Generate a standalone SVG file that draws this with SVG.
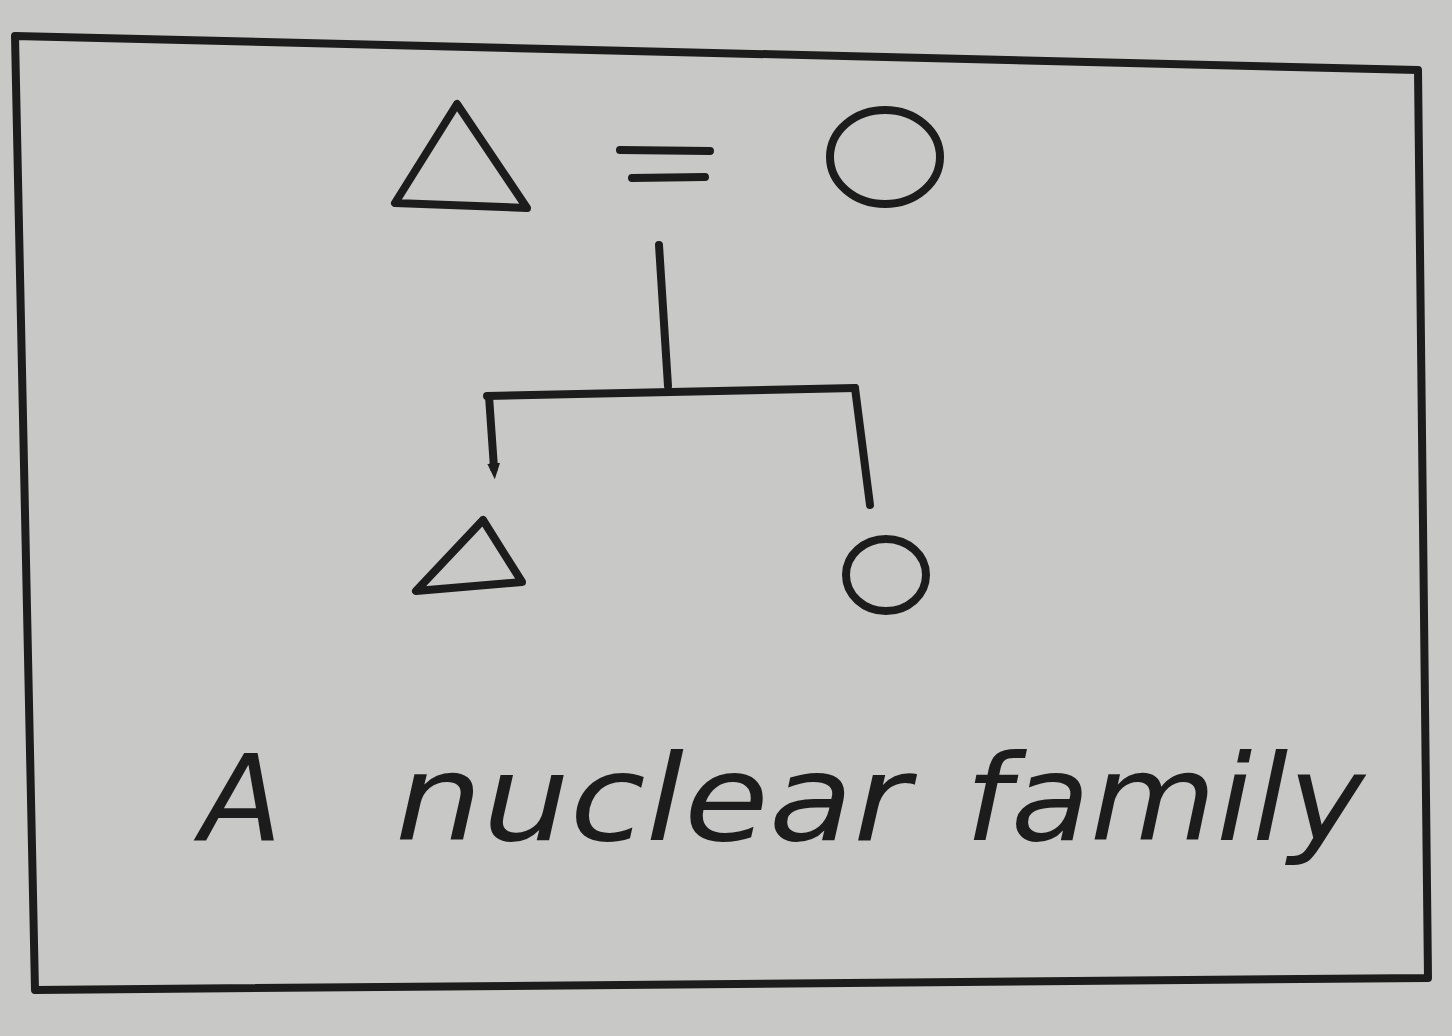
<svg xmlns="http://www.w3.org/2000/svg" width="1452" height="1036" viewBox="0 0 1452 1036">
<style>
.ink{fill:none;stroke:#1c1c1c;stroke-width:8;stroke-linecap:round;stroke-linejoin:round}
.lbl{font-family:"DejaVu Sans","Liberation Sans",sans-serif;font-style:italic;font-size:120px;fill:#1c1c1c}
</style>
<defs>
<marker id="tip" viewBox="0 0 10 10" refX="3" refY="5" markerWidth="2" markerHeight="2" orient="auto">
<path d="M0,1 L10,5 L0,9 Z" fill="#1c1c1c"/>
</marker>
</defs>
<rect width="1452" height="1036" fill="#c8c8c6"/>
<g id="frame">
<path class="ink" d="M15,36 L1418,70 L1428,978 L35,990 Z"/>
</g>
<g id="father">
<path class="ink" d="M457,104 L395,203 L527,208 Z"/>
</g>
<g id="marriage">
<path class="ink" d="M620,150 L710,151 M632,178 L705,177" stroke-width="11"/>
</g>
<g id="mother">
<ellipse class="ink" cx="885" cy="157" rx="55" ry="47"/>
</g>
<g id="son">
<path class="ink" d="M483,520 L416,591 L522,582 Z"/>
</g>
<g id="daughter">
<ellipse class="ink" cx="886" cy="575" rx="40" ry="36"/>
</g>
<g id="connectors">
<path class="ink" d="M659,245 L668,386"/>
<path class="ink" d="M487,396 L855,388"/>
<path class="ink" d="M489,396 L494,468" marker-end="url(#tip)"/>
<path class="ink" d="M855,388 L870,505"/>
</g>
<g id="caption">
<text class="lbl" y="840"><tspan x="200">A</tspan><tspan x="395" textLength="515" lengthAdjust="spacingAndGlyphs">nuclear</tspan><tspan x="965" textLength="400" lengthAdjust="spacingAndGlyphs">family</tspan></text>
</g>
</svg>
